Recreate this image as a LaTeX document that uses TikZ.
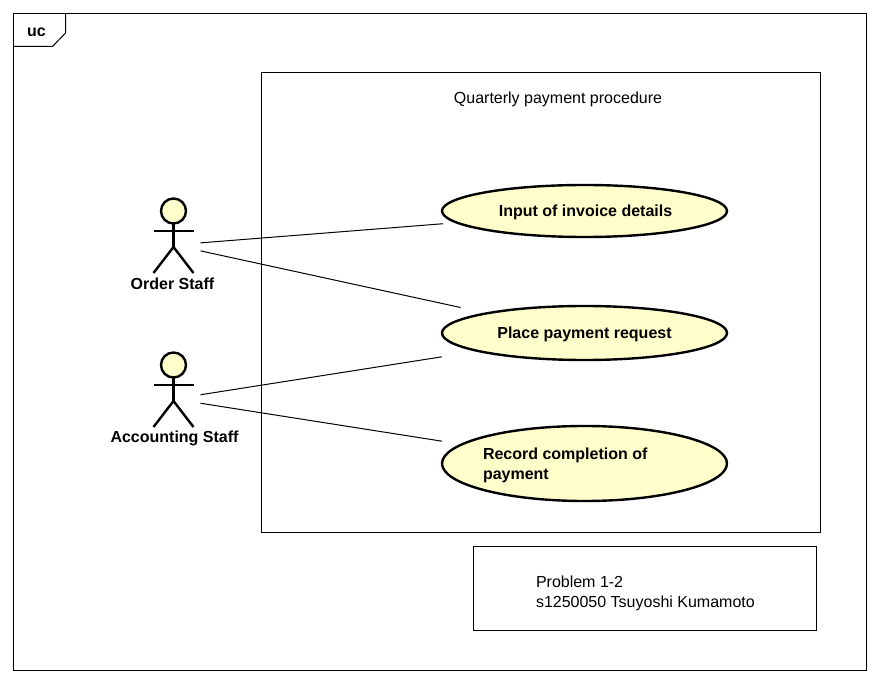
\documentclass[tikz,border=0pt]{standalone}
\usepackage{fontspec}
\setmainfont{Liberation Sans}
\definecolor{ucyellow}{HTML}{FFFFCC}
\tikzset{
  thin line/.style={line width=1pt},
  thick line/.style={line width=2.4pt},
  every node/.style={inner sep=0pt, outer sep=0pt, font=\fontsize{16}{20}\selectfont},
  boldtext/.style={font=\fontsize{16}{20}\selectfont\bfseries},
  ucshape/.style={draw=black, thick line, fill=ucyellow, ellipse, minimum width=285pt},
  ucbox/.style={rectangle, minimum width=285pt, boldtext, align=left},
  actorbox/.style={rectangle, minimum width=54pt, minimum height=60pt},
  actor/.pic={
    \draw[thick line, fill=ucyellow] (0,-34) circle (12.5pt);
    \draw[thick line] (0,-21.5) -- (0,2);
    \draw[thick line] (-20,-14) -- (20,-14);
    \draw[thick line] (-20,28) -- (0,2) -- (20,28);
  }
}
\usetikzlibrary{shapes.geometric}
\begin{document}
\begin{tikzpicture}[x=1pt,y=-1pt]
  \useasboundingbox (0,0) rectangle (880,684);

  % frame and tab
  \draw[thin line] (13.5,14) rectangle (866,670);
  \draw[thin line] (65.5,14) -- (65.5,33) -- (52.5,46.5) -- (13.5,46.5);
  \node[boldtext] (tab) at (36.5,32.5) {uc};

  % system boundary
  \draw[thin line] (261.5,72.5) rectangle (820,532);
  \node (title) at (558,99.5) {Quarterly payment procedure};

  % use cases
  \node[ucshape, minimum height=52pt] (invoiceshape) at (584.5,211) {};
  \node[ucbox, minimum height=52pt] (invoice) at (585.5,212.5) {Input of invoice details};
  \node[ucshape, minimum height=54pt] (requestshape) at (584.5,333) {};
  \node[ucbox, minimum height=54pt] (request) at (584.5,334.5) {Place payment request};
  \node[ucshape, minimum height=75pt] (recordshape) at (584.5,463.5) {};
  \node[ucbox, minimum height=75pt] (record) at (584.5,463.5) {};
  \node[boldtext, align=left, anchor=west] (recordtext) at (483,465) {Record completion of\\payment};

  % actors
  \node[actorbox] (order) at (173.5,245) {};
  \pic at (order) {actor};
  \node[boldtext] (orderlabel) at (172.5,284) {Order Staff};
  \node[actorbox] (accounting) at (173.5,399) {};
  \pic at (accounting) {actor};
  \node[boldtext] (accountinglabel) at (174.5,438) {Accounting Staff};

  % associations
  \draw[thin line] (order) -- (invoice);
  \draw[thin line] (order) -- (request);
  \draw[thin line] (accounting) -- (request);
  \draw[thin line] (accounting) -- (record);

  % note
  \node[draw=black, thin line, rectangle, minimum width=343pt, minimum height=84pt] (notebox) at (645,588.5) {};
  \node[align=left, anchor=west] (notetext) at (536,593.5) {Problem 1-2\\s1250050 Tsuyoshi Kumamoto};
\end{tikzpicture}
\end{document}
